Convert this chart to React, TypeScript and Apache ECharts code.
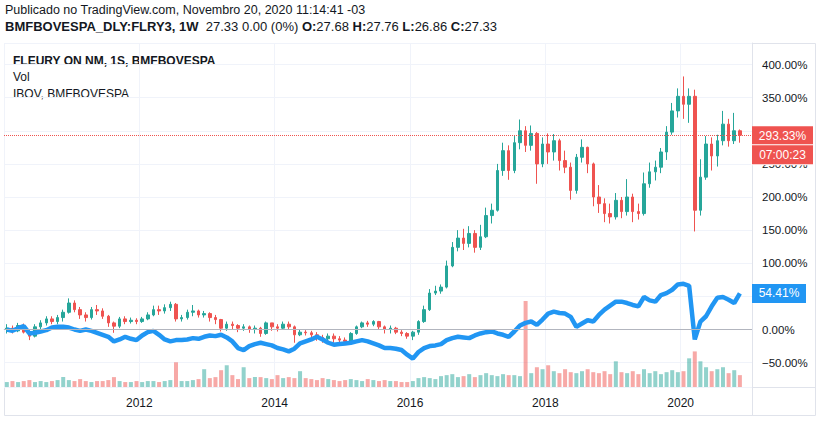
import React, { useEffect, useRef } from "react";
import * as echarts from "echarts";

const FONT = "'Liberation Sans', Arial, sans-serif";
const TEXT = "#131722";
const UP = "#26a69a";
const DOWN = "#ef5350";
const IBOV_BLUE = "#2196f3";
const GRID_LINE = "#f0f3fa";
const BORDER = "#e0e3eb";

// Monthly periods, Jan 2010 .. Nov 2020
const FIRST_YEAR = 2010;
const PERIODS = 131;
const months: string[] = Array.from({ length: PERIODS }, (_, i) =>
  `${FIRST_YEAR + Math.floor(i / 12)}-${String((i % 12) + 1).padStart(2, "0")}`
);

// FLEURY ON NM (percent change from first bar)
const opens = [
  0, 2, -2, 6, -4, -10, 4, 10, 16, 12,
  18, 26, 40, 30, 22, 18, 30, 28, 20, 10,
  5, 16, 12, 14, 12, 16, 22, 30, 28, 33,
  38, 16, 18, 26, 28, 22, 24, 18, 15, 2,
  8, 6, 2, 4, 0, 2, -6, 10, 4, 2,
  8, 4, -8, -4, -5, -8, -12, -14, -10, -14,
  -16, -18, -6, 4, 10, 8, 12, 4, 0, 2,
  -4, -6, -10, -4, 12, 30, 55, 58, 64, 96,
  124, 138, 130, 145, 124, 140, 172, 180, 240, 270,
  240, 282, 300, 278, 296, 250, 280, 268, 285, 255,
  245, 210, 260, 275, 250, 200, 190, 175, 170, 195,
  178, 200, 178, 175, 220, 238, 245, 268, 298, 330,
  352, 340, 352, 180, 230, 280, 262, 285, 310, 285,
  300,
];
const closes = [
  2, -2, 6, -4, -10, 4, 10, 16, 12, 18,
  26, 40, 30, 22, 18, 30, 28, 20, 10, 5,
  16, 12, 14, 12, 16, 22, 30, 28, 33, 38,
  16, 18, 26, 28, 22, 24, 18, 15, 2, 8,
  6, 2, 4, 0, 2, -6, 10, 4, 2, 8,
  4, -8, -4, -5, -8, -12, -14, -10, -14, -16,
  -18, -6, 4, 10, 8, 12, 4, 0, 2, -4,
  -6, -10, -4, 12, 30, 55, 58, 64, 96, 124,
  138, 130, 145, 124, 140, 172, 180, 240, 270, 240,
  282, 300, 278, 296, 250, 280, 268, 285, 255, 245,
  210, 260, 275, 250, 200, 190, 175, 170, 195, 178,
  200, 178, 175, 220, 238, 245, 268, 298, 330, 352,
  340, 352, 180, 230, 280, 262, 285, 310, 285, 300,
  293.33,
];
const lows = [
  -6, -6, -4, -6, -16, -12, 0, 6, 8, 8,
  12, 24, 26, 16, 12, 15, 22, 16, 4, -5,
  2, 8, 9, 8, 10, 14, 20, 22, 24, 28,
  12, 12, 15, 20, 18, 18, 12, 8, -3, -2,
  0, -4, -2, -5, -6, -11, -8, -2, -3, 0,
  0, -20, -10, -9, -12, -17, -20, -18, -20, -21,
  -23, -20, -8, 2, 4, 5, 0, -6, -6, -7,
  -10, -14, -16, -8, 10, 28, 52, 54, 62, 94,
  118, 120, 124, 116, 120, 138, 160, 178, 232, 226,
  236, 272, 268, 270, 220, 245, 250, 255, 240, 236,
  196, 205, 252, 236, 186, 176, 162, 160, 166, 168,
  172, 162, 166, 172, 214, 225, 236, 256, 294, 320,
  318, 312, 148, 172, 226, 240, 246, 278, 276, 280,
  282,
];
const highs = [
  8, 6, 10, 9, 0, 8, 14, 20, 20, 22,
  30, 47, 44, 34, 26, 34, 37, 32, 22, 12,
  19, 20, 18, 17, 19, 26, 36, 36, 38, 42,
  40, 22, 30, 37, 30, 28, 26, 22, 16, 12,
  12, 8, 8, 6, 6, 4, 12, 10, 8, 12,
  12, 6, 0, -1, -2, -4, -8, -6, -6, -10,
  -12, -4, 6, 12, 13, 14, 13, 6, 6, 4,
  -1, -4, -2, 14, 36, 61, 66, 68, 104, 132,
  150, 152, 156, 150, 158, 184, 190, 250, 282, 278,
  292, 317, 307, 308, 298, 290, 296, 295, 288, 270,
  252, 265, 287, 276, 252, 218, 198, 190, 206, 200,
  227, 205, 190, 237, 252, 255, 274, 307, 342, 364,
  382, 364, 362, 257, 292, 290, 294, 330, 318, 327,
  302,
];
const volumes = [
  5, 6, 5, 6, 7, 5, 6, 5, 6, 7,
  10, 7, 6, 8, 6, 5, 6, 6, 7, 10,
  6, 5, 5, 6, 5, 6, 6, 5, 6, 7,
  25, 6, 6, 7, 8, 18, 9, 10, 17, 22,
  12, 8, 20, 9, 10, 10, 9, 8, 12, 9,
  10, 9, 16, 9, 8, 7, 9, 8, 7, 6,
  7, 8, 7, 6, 8, 7, 6, 7, 6, 6,
  5, 5, 6, 9, 10, 9, 8, 11, 12, 13,
  10, 11, 13, 10, 12, 14, 12, 11, 13, 12,
  12, 11, 87, 14, 20, 18, 22, 16, 14, 18,
  15, 14, 16, 18, 15, 14, 16, 13, 26, 15,
  14, 16, 13, 18, 14, 16, 13, 15, 17, 15,
  16, 29, 36, 26, 20, 16, 18, 20, 14, 17,
  12,
];
// IBOV, BMFBOVESPA (percent change)
const ibov = [
  0, -2, 2, 5, -6, -5, -3, -1, 3, 4,
  4, 3, 0, -2, 0, -2, -5, -8, -11, -18,
  -15, -11, -14, -16, -9, -4, -2, -8, -15, -18,
  -16, -16, -15, -13, -14, -11, -9, -10, -8, -12,
  -18, -28, -31, -25, -22, -20, -22, -24, -28, -30,
  -33, -29, -21, -18, -15, -11, -15, -20, -23, -22,
  -21, -20, -18, -16, -18, -21, -24, -28, -28, -29,
  -31, -38, -44, -34, -28, -25, -24, -22, -16, -13,
  -11, -12, -13, -9, -6, -4, -3, -6, -8, -11,
  -3, 6, 10, 12, 7, 15, 24, 27, 25, 24,
  19, 4, 9, 14, 12, 22, 30, 36, 42, 42,
  40, 37, 35, 49, 44, 42, 52, 55, 60, 68,
  69, 66, -15, 12, 20, 35, 48, 49, 45, 40,
  54.41,
];

const headerLine1 = "Publicado no TradingView.com, Novembro 20, 2020 11:14:41 -03";
const symbolTitle = "BMFBOVESPA_DLY:FLRY3, 1W";
const quoteLast = "27.33";
const quoteChange = "0.00 (0%)";
const quoteO = "27.68";
const quoteH = "27.76";
const quoteL = "26.86";
const quoteC = "27.33";
const legendLines = ["FLEURY ON NM, 1S, BMFBOVESPA", "Vol", "IBOV, BMFBOVESPA"];
const countdown = "07:00:23";

const fmtPct = (v: number) => (v < 0 ? "\u2212" : "") + Math.abs(v).toFixed(2) + "%";

function buildOption() {
  const xs = months.map((m) => {
    const [y, mo] = m.split("-").map(Number);
    return y + (mo - 0.5) / 12;
  });
  const candleData = xs.map((x, i) => [x, opens[i], closes[i], lows[i], highs[i]]);
  const volData = xs.map((x, i) => ({
    value: [x, volumes[i]],
    itemStyle: {
      color: closes[i] >= opens[i] ? "rgba(38,166,154,0.5)" : "rgba(239,83,80,0.5)",
    },
  }));
  const ibovData = xs.map((x, i) => [x, ibov[i]]);
  const last = PERIODS - 1;
  const lastClose = closes[last];
  const lastColor = closes[last] >= opens[last] ? UP : DOWN;
  const lastIbov = ibov[last];

  const boxText = { color: "#ffffff", fontFamily: FONT, fontSize: 12, height: 19, lineHeight: 19, align: "center" as const };

  return {
    animation: false,
    backgroundColor: "#ffffff",
    textStyle: { fontFamily: FONT },
    grid: { left: 4, top: 43, right: 69, bottom: 34 },
    xAxis: {
      type: "value",
      min: 2010,
      max: 2021.054,
      interval: 2,
      axisLine: { show: true, lineStyle: { color: BORDER } },
      axisTick: { show: false },
      axisLabel: {
        showMinLabel: false,
        showMaxLabel: false,
        color: TEXT,
        fontSize: 12,
        fontFamily: FONT,
        margin: 10,
        formatter: (v: number) => String(Math.round(v)),
      },
      splitLine: { show: true, lineStyle: { color: GRID_LINE } },
    },
    yAxis: [
      {
        type: "value",
        position: "right",
        min: -86.8,
        max: 432.5,
        splitNumber: 10,
        axisLine: { show: true, lineStyle: { color: BORDER } },
        axisTick: { show: false },
        axisLabel: {
          showMinLabel: false,
          showMaxLabel: false,
          color: TEXT,
          fontSize: 11.5,
          fontFamily: FONT,
          margin: 10,
          // labels sitting under the last-value boxes are hidden, as in the original
          formatter: (v: number) =>
            Math.abs(v - lastClose) < 15 || Math.abs(v - lastIbov) < 15 ? "" : fmtPct(v),
        },
        splitLine: { show: true, lineStyle: { color: GRID_LINE } },
      },
      {
        type: "value",
        position: "right",
        min: 0,
        max: Math.max(...volumes) * 4,
        show: false,
        splitLine: { show: false },
      },
    ],
    series: [
      {
        name: "Vol",
        type: "bar",
        xAxisIndex: 0,
        yAxisIndex: 1,
        barWidth: 4,
        data: volData,
        z: 1,
      },
      {
        name: "FLEURY ON NM",
        type: "candlestick",
        xAxisIndex: 0,
        yAxisIndex: 0,
        barWidth: 3,
        data: candleData,
        itemStyle: { color: UP, color0: DOWN, borderColor: UP, borderColor0: DOWN, borderWidth: 1 },
        z: 2,
        markLine: {
          silent: true,
          symbol: ["none", "none"],
          data: [
            {
              yAxis: 0,
              lineStyle: { color: "#b2b5be", type: "solid", width: 1 },
              label: { show: false },
            },
            {
              yAxis: lastClose,
              lineStyle: { color: lastColor, type: "dotted", width: 1 },
              label: {
                show: true,
                position: "end",
                distance: 0,
                padding: [20, 0, 0, 0],
                formatter: () => `{a|${fmtPct(lastClose)}}\n{b|${countdown}}`,
                rich: {
                  a: { ...boxText, backgroundColor: lastColor, width: 53, padding: [0, 4] },
                  b: { ...boxText, backgroundColor: lastColor, width: 53, padding: [0, 4], borderColor: "#ffffff", borderWidth: 1 },
                },
              },
            },
          ],
        },
      },
      {
        name: "IBOV",
        type: "line",
        xAxisIndex: 0,
        yAxisIndex: 0,
        data: ibovData,
        showSymbol: false,
        lineStyle: { color: IBOV_BLUE, width: 4.5 },
        itemStyle: { color: IBOV_BLUE },
        z: 3,
        markLine: {
          silent: true,
          symbol: ["none", "none"],
          data: [
            {
              yAxis: lastIbov,
              lineStyle: { color: "rgba(0,0,0,0)", width: 0 },
              label: {
                show: true,
                position: "end",
                distance: 0,
                formatter: () => `{a|${fmtPct(lastIbov)}}`,
                rich: { a: { ...boxText, backgroundColor: IBOV_BLUE, width: 46, padding: [0, 4] } },
              },
            },
          ],
        },
      },
    ],
    graphic: [
      {
        type: "rect",
        silent: true,
        z: 0,
        shape: { x: 4.5, y: 43.5, width: 811, height: 372 },
        style: { fill: "none", stroke: BORDER, lineWidth: 1 },
      },
      {
        type: "line",
        silent: true,
        shape: { x1: 752, y1: 387.5, x2: 816, y2: 387.5 },
        style: { stroke: BORDER, lineWidth: 1 },
      },
      {
        type: "line",
        silent: true,
        shape: { x1: 752.5, y1: 387, x2: 752.5, y2: 416 },
        style: { stroke: BORDER, lineWidth: 1 },
      },
      {
        type: "text",
        x: 5,
        y: 10,
        style: { text: headerLine1, fill: TEXT, font: `12.5px ${FONT}`, verticalAlign: "middle" },
      },
      {
        type: "text",
        x: 5,
        y: 26,
        style: {
          text: `{b|${symbolTitle}}  ${quoteLast} ${quoteChange} {b|O:}${quoteO} {b|H:}${quoteH} {b|L:}${quoteL} {b|C:}${quoteC}`,
          fill: TEXT,
          font: `13px ${FONT}`,
          verticalAlign: "middle",
          rich: { b: { fontWeight: "bold", fontSize: 13, fontFamily: FONT, fill: TEXT } },
        },
      },
      {
        type: "text",
        x: 13,
        y: 60.5,
        style: { text: legendLines[0], fill: TEXT, font: `bold 12px ${FONT}`, verticalAlign: "middle" },
      },
      {
        type: "text",
        x: 13,
        y: 77,
        style: { text: legendLines[1], fill: TEXT, font: `12px ${FONT}`, verticalAlign: "middle" },
      },
      {
        type: "text",
        x: 13,
        y: 93.5,
        style: { text: legendLines[2], fill: TEXT, font: `12px ${FONT}`, verticalAlign: "middle" },
      },
    ],
  };
}

export default function App() {
  const ref = useRef<HTMLDivElement>(null);
  useEffect(() => {
    if (!ref.current) return;
    const chart = echarts.init(ref.current, null, { renderer: "svg" });
    chart.setOption(buildOption() as any);
    return () => chart.dispose();
  }, []);
  return (
    <div
      ref={ref}
      style={{ position: "fixed", left: 0, top: 0, width: 821, height: 421, background: "#fff" }}
    />
  );
}
